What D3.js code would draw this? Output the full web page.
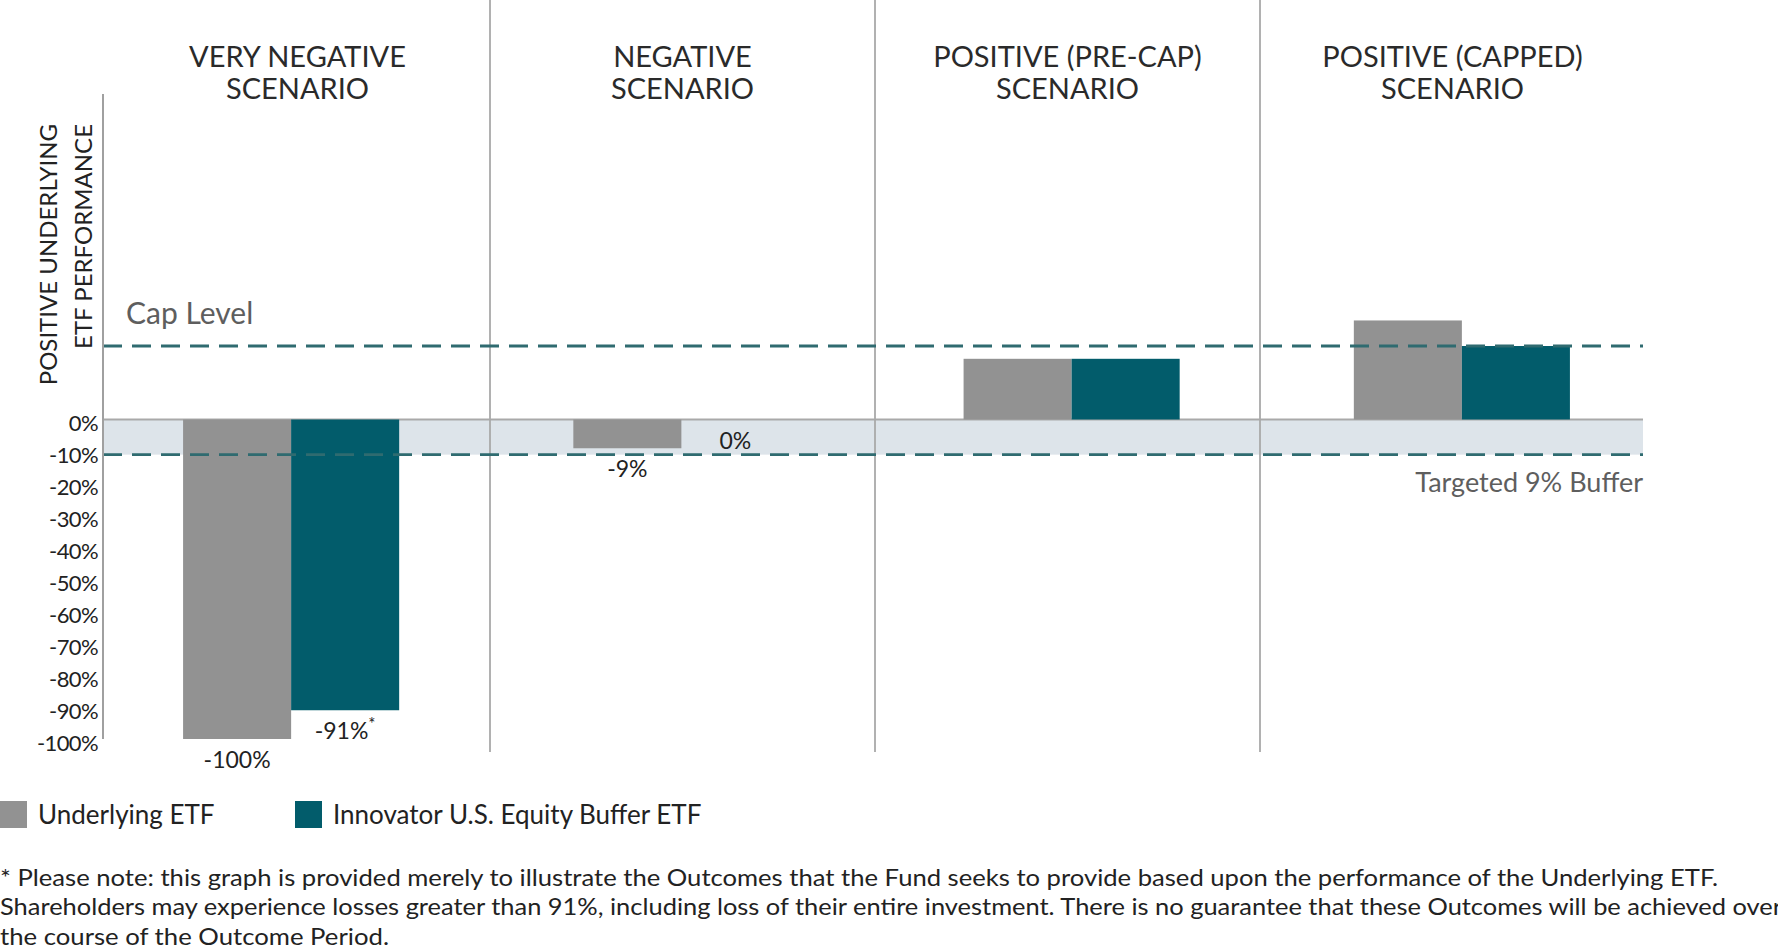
<!DOCTYPE html>
<html>
<head>
<meta charset="utf-8">
<script src="https://cdn.jsdelivr.net/npm/d3@7"></script>
<style>
  body { margin: 0; background: #fff; }
  svg text { font-family: Lato, "Open Sans", sans-serif; }
</style>
</head>
<body>
<div id="chart"></div>
<script>
// data
const scenarios = ["veryNegative", "negative", "positivePreCap", "positiveCapped"]
const titleLines = [
    ["VERY NEGATIVE", "SCENARIO"],
    ["NEGATIVE", "SCENARIO"],
    ["POSITIVE (PRE-CAP)", "SCENARIO"],
    ["POSITIVE (CAPPED)", "SCENARIO"],
]
const seriesNames = ["Underlying ETF", "Innovator U.S. Equity Buffer ETF"]
const underlyingEtf = [-100, -9, 19, 31]
const bufferEtf = [-91, 0, 19, 23]
const underlyingLabels = ["-100%", "-9%", "", ""]
const bufferLabels = ["-91%", "0%", "", ""]
const bufferNotes = ["*", "", "", ""]
const yTicks = [0, -10, -20, -30, -40, -50, -60, -70, -80, -90, -100]
const capLevel = 23
const bufferLevel = -11
const footnote = [
    "* Please note: this graph is provided merely to illustrate the Outcomes that the Fund seeks to provide based upon the performance of the Underlying ETF.",
    "Shareholders may experience losses greater than 91%, including loss of their entire investment.  There is no guarantee that these Outcomes will be achieved over",
    "the course of the Outcome Period.",
]

const width = 1778, height = 952
const colors = ["#929292", "#025c6b"]
const dashColor = "#2f6b70"

const svg = d3.select("#chart").append("svg")
    .attr("width", width).attr("height", height)
    .attr("viewBox", [0, 0, width, height])

const plotLeft = 103, plotRight = 1643

//sections (titles + separators) span the plot, bars sit on their own band
const xSec = d3.scaleBand().domain(scenarios).range([plotLeft + 2, plotRight + 2])
const x = d3.scaleBand().domain(scenarios).range([96, 1657]).paddingInner(0)
const xs = d3.scaleBand().domain(seriesNames).range([0, x.bandwidth()]).paddingInner(0).paddingOuter(0.806)
const y = d3.scaleLinear().domain([-100, 0]).range([739, 419.5])

//buffer band
svg.append("rect")
    .attr("x", plotLeft).attr("y", y(0))
    .attr("width", plotRight - plotLeft).attr("height", y(bufferLevel) - y(0))
    .attr("fill", "#dde4ea")

//zero line
svg.append("line")
    .attr("x1", plotLeft).attr("x2", plotRight)
    .attr("y1", y(0)).attr("y2", y(0))
    .attr("stroke", "#a9a9a9").attr("stroke-width", 2)

//scenario separators
svg.selectAll("line.sep")
    .data(scenarios.slice(1)).enter()
    .append("line").classed("sep", true)
    .attr("x1", d => xSec(d)).attr("x2", d => xSec(d))
    .attr("y1", 0).attr("y2", 752)
    .attr("stroke", "#a9a9a9").attr("stroke-width", 1.8)

//bars
const rows = scenarios.map((s, i) => ({
    s, vals: [underlyingEtf[i], bufferEtf[i]], labels: [underlyingLabels[i], bufferLabels[i]],
    notes: ["", bufferNotes[i]]
}))

const groups = svg.selectAll("g.grp")
    .data(rows).enter()
    .append("g").classed("grp", true)
    .attr("transform", d => `translate(${x(d.s)},0)`)

groups.selectAll("rect")
    .data(d => d.vals.map((v, k) => ({ v, k })).filter(e => e.v !== 0))
    .enter().append("rect")
    .attr("x", e => xs(seriesNames[e.k]))
    .attr("width", xs.bandwidth())
    .attr("y", e => y(Math.max(e.v, 0)))
    .attr("height", e => Math.abs(y(e.v) - y(0)))
    .attr("fill", e => colors[e.k])

const labs = groups.selectAll("text.val")
    .data(d => d.vals.map((v, k) => ({ v, k, t: d.labels[k], n: d.notes[k] })).filter(e => e.t))
    .enter().append("text").classed("val", true)
    .attr("x", e => xs(seriesNames[e.k]) + xs.bandwidth() / 2)
    .attr("y", e => y(Math.min(e.v, 0)) + 29)
    .attr("text-anchor", "middle")
    .attr("font-size", 23)
    .attr("fill", "#222")
labs.append("tspan").text(e => e.t)
labs.filter(e => e.n).append("tspan")
    .attr("dy", -9).attr("font-size", 17)
    .text(e => e.n)

//dashed level lines
svg.selectAll("line.level")
    .data([capLevel, bufferLevel]).enter()
    .append("line").classed("level", true)
    .attr("x1", plotLeft).attr("x2", plotRight)
    .attr("y1", d => y(d)).attr("y2", d => y(d))
    .attr("stroke", dashColor).attr("stroke-width", 2.8)
    .attr("stroke-dasharray", "19,10")

svg.append("text")
    .attr("x", 126).attr("y", y(capLevel) - 22)
    .attr("font-size", 30).attr("fill", "#5e5e5e")
    .text("Cap Level")

svg.append("text")
    .attr("x", plotRight).attr("y", y(bufferLevel) + 37)
    .attr("text-anchor", "end")
    .attr("font-size", 27).attr("fill", "#5e5e5e")
    .text("Targeted 9% Buffer")

//y axis
const yAxis = svg.append("g")
    .attr("transform", `translate(${plotLeft},0)`)
    .call(d3.axisLeft(y).tickValues(yTicks).tickSize(0).tickPadding(5).tickFormat(d => d + "%"))
yAxis.select(".domain").remove()
yAxis.selectAll("text")
    .attr("font-size", 22).attr("fill", "#222")
    .attr("font-family", "Lato, sans-serif")
    .attr("letter-spacing", -0.6)
    .attr("transform", "translate(0,4)")

svg.append("line")
    .attr("x1", plotLeft).attr("x2", plotLeft)
    .attr("y1", 94).attr("y2", y(-100))
    .attr("stroke", "#a0a0a0").attr("stroke-width", 2)

const yTitle = svg.append("text")
    .attr("transform", "translate(0,124) rotate(-90)")
    .attr("text-anchor", "end")
    .attr("font-size", 24).attr("fill", "#222")
yTitle.append("tspan").attr("x", 0).attr("y", 57).text("POSITIVE UNDERLYING")
yTitle.append("tspan").attr("x", 0).attr("y", 92).text("ETF PERFORMANCE")

//scenario titles
const titles = svg.selectAll("text.title")
    .data(rows).enter()
    .append("text").classed("title", true)
    .attr("text-anchor", "middle")
    .attr("font-size", 29).attr("fill", "#2a2a2a")
titles.selectAll("tspan")
    .data((d, i) => titleLines[i].map(t => ({ t, s: d.s })))
    .enter().append("tspan")
    .attr("x", e => xSec(e.s) + xSec.bandwidth() / 2)
    .attr("y", (e, j) => 67 + j * 32)
    .text(e => e.t)

//legend
const legend = svg.selectAll("g.legend")
    .data(seriesNames).enter()
    .append("g").classed("legend", true)
    .attr("transform", (d, i) => `translate(${[0, 295][i]},801)`)
legend.append("rect")
    .attr("width", 27).attr("height", 27)
    .attr("fill", (d, i) => colors[i])
legend.append("text")
    .attr("x", 38).attr("y", 23)
    .attr("font-size", 26).attr("fill", "#222")
    .text(d => d)

//footnote
svg.selectAll("text.foot")
    .data(footnote).enter()
    .append("text").classed("foot", true)
    .attr("x", 0).attr("y", (d, i) => 885.5 + i * 29.5)
    .attr("font-size", 23).attr("fill", "#222")
    .attr("textLength", (d, i) => [1718, 1782, 389][i])
    .attr("lengthAdjust", "spacingAndGlyphs")
    .text(d => d)
</script>
</body>
</html>
